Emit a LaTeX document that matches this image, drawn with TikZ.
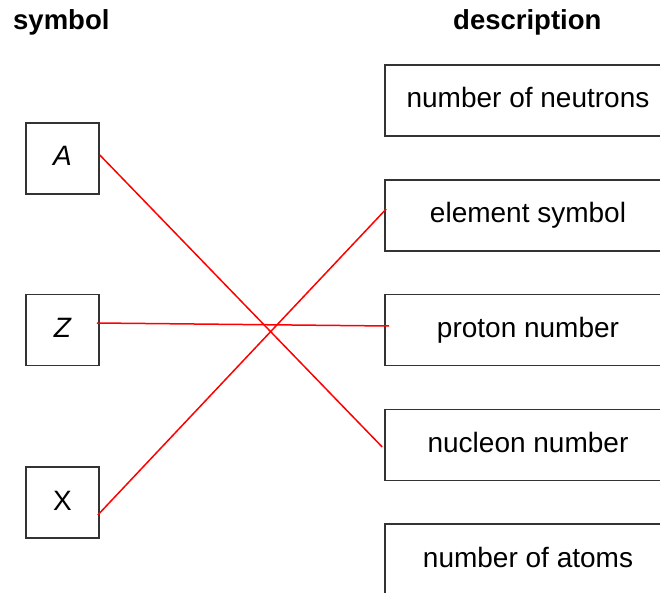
\documentclass[tikz,border=0pt]{standalone}
\usepackage{fontspec}
\setmainfont{Liberation Sans}
\begin{document}
\begin{tikzpicture}[x=1pt,y=-1pt,
  box/.style={draw=black!80,line width=1.6pt,fill=none,inner sep=0pt,
    text height=17pt,text depth=2pt,font=\fontsize{28}{33}\selectfont},
  symbox/.style={box,minimum width=73pt,minimum height=71pt},
  descbox/.style={box,minimum width=286pt,minimum height=71pt},
  head/.style={anchor=base west,inner sep=0pt,font=\fontsize{27.5}{33}\selectfont\bfseries},
  link/.style={draw=red,line width=1.5pt}]
\useasboundingbox (0,0) rectangle (660,593);
\clip (0,0) rectangle (660,593);
\node[head] (hs) at (13,30) {symbol};
\node[head] (hd) at (453,30) {description};
\node[symbox] (A) at (62.5,158.5) {\itshape A};
\node[symbox] (Z) at (62.5,330) {\itshape Z};
\node[symbox] (X) at (62.5,502.5) {X};
\node[descbox] (neu) at (528,100.5) {number of neutrons};
\node[descbox] (ele) at (528,215.5) {element symbol};
\node[descbox] (pro) at (528,330) {proton number};
\node[descbox] (nuc) at (528,445) {nucleon number};
\node[descbox] (ato) at (528,559.5) {number of atoms};
\draw[link] ([yshift=3.5pt]A.east) -- ([xshift=-2pt,yshift=-2pt]nuc.west);
\draw[link] ([xshift=-3pt,yshift=7pt]Z.east) -- ([xshift=5pt,yshift=4pt]pro.west);
\draw[link] ([xshift=-2pt,yshift=-12.5pt]X.east) -- ([xshift=2pt,yshift=6.5pt]ele.west);
\end{tikzpicture}
\end{document}
